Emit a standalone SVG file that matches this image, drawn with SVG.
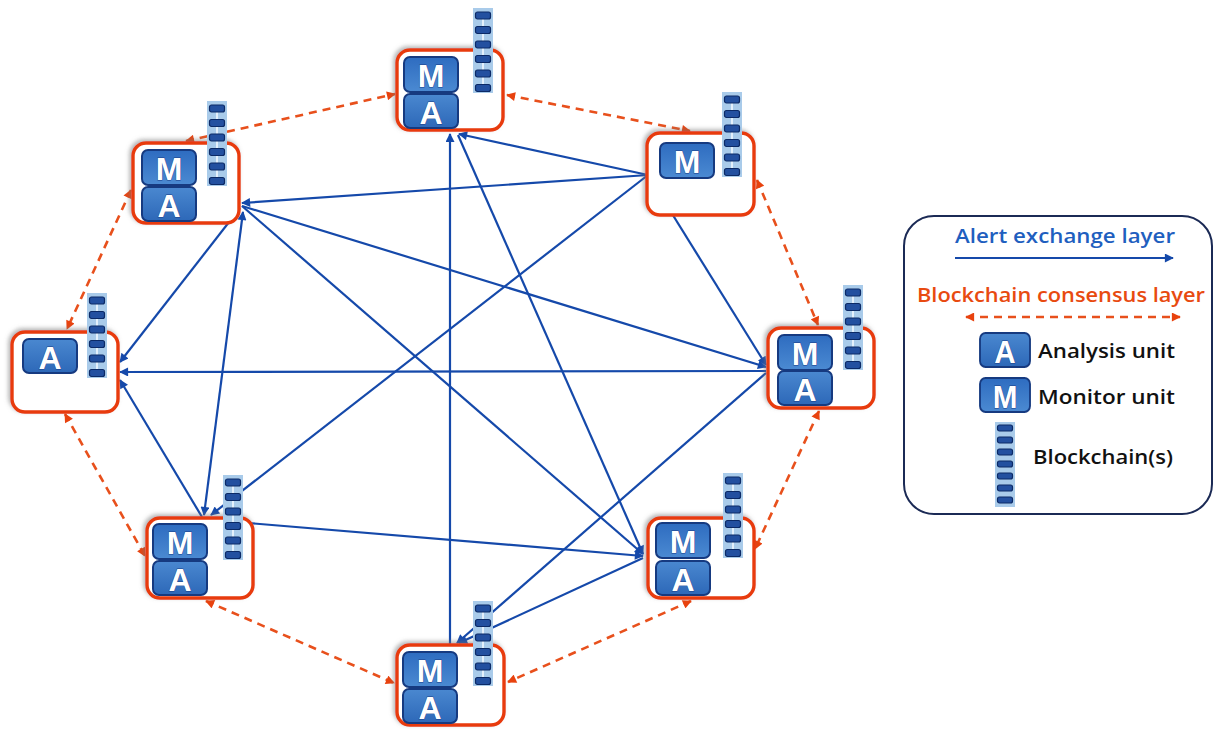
<svg xmlns="http://www.w3.org/2000/svg" xmlns:xlink="http://www.w3.org/1999/xlink" width="1216" height="729" viewBox="0 0 1216 729">
<style>
.blue{stroke:#1549aa;stroke-width:2.2;fill:none}
.red{stroke:#e8501c;stroke-width:2.6;fill:none;stroke-dasharray:8 6}
.box{fill:#ffffff;stroke:#e83a0c;stroke-width:3.4}
.tile{stroke:#163a80;stroke-width:2}
.let{font-family:"Liberation Sans",Arial,sans-serif;font-size:32px;font-weight:bold;fill:#ffffff;stroke:#1a3f88;stroke-width:0.8;paint-order:stroke;text-anchor:middle}
.leg{font-family:"Open Sans","Liberation Sans",sans-serif;font-size:19px;font-weight:600}
</style>
<defs>
<linearGradient id="gM" x1="0" y1="0" x2="0" y2="1">
<stop offset="0" stop-color="#2e6cc0"/><stop offset="1" stop-color="#4b8ad2"/>
</linearGradient>
<linearGradient id="gA" x1="0" y1="0" x2="0" y2="1">
<stop offset="0" stop-color="#4a88d0"/><stop offset="1" stop-color="#2d68b8"/>
</linearGradient>
<filter id="sh" x="-20%" y="-20%" width="140%" height="140%">
<feDropShadow dx="-2" dy="-2" stdDeviation="2" flood-color="#777" flood-opacity="0.55"/>
</filter>
<marker id="ab" viewBox="0 0 10 10" refX="9" refY="5" markerWidth="11" markerHeight="9" markerUnits="userSpaceOnUse" orient="auto-start-reverse">
<path d="M0,0 L10,5 L0,10 z" fill="#1549aa"/>
</marker>
<marker id="ar" viewBox="0 0 10 10" refX="9" refY="5" markerWidth="10" markerHeight="9" markerUnits="userSpaceOnUse" orient="auto-start-reverse">
<path d="M0,0 L10,5 L0,10 z" fill="#e8420e"/>
</marker>
<g id="chain">
<rect x="0" y="0" width="20" height="85" fill="#a9cbea"/>
<path d="M10,11 V18.5 M10,25.5 V33 M10,40 V47.5 M10,54.5 V62 M10,69 V76.5" stroke="#e4f0fb" stroke-width="2"/>
<rect x="2.5" y="4" width="15" height="7" rx="2" fill="#2350a0" stroke="#0c2a66" stroke-width="1.2"/>
<rect x="2.5" y="18.5" width="15" height="7" rx="2" fill="#2350a0" stroke="#0c2a66" stroke-width="1.2"/>
<rect x="2.5" y="33" width="15" height="7" rx="2" fill="#2350a0" stroke="#0c2a66" stroke-width="1.2"/>
<rect x="2.5" y="47.5" width="15" height="7" rx="2" fill="#2350a0" stroke="#0c2a66" stroke-width="1.2"/>
<rect x="2.5" y="62" width="15" height="7" rx="2" fill="#2350a0" stroke="#0c2a66" stroke-width="1.2"/>
<rect x="2.5" y="76.5" width="15" height="7" rx="2" fill="#2350a0" stroke="#0c2a66" stroke-width="1.2"/>
</g>
<g id="chain7">
<rect x="0" y="0" width="20" height="85" fill="#a9cbea"/>
<rect x="2.5" y="3" width="15" height="6" rx="2" fill="#2350a0" stroke="#0c2a66" stroke-width="1.2"/>
<rect x="2.5" y="15" width="15" height="6" rx="2" fill="#2350a0" stroke="#0c2a66" stroke-width="1.2"/>
<rect x="2.5" y="27" width="15" height="6" rx="2" fill="#2350a0" stroke="#0c2a66" stroke-width="1.2"/>
<rect x="2.5" y="39" width="15" height="6" rx="2" fill="#2350a0" stroke="#0c2a66" stroke-width="1.2"/>
<rect x="2.5" y="51" width="15" height="6" rx="2" fill="#2350a0" stroke="#0c2a66" stroke-width="1.2"/>
<rect x="2.5" y="63" width="15" height="6" rx="2" fill="#2350a0" stroke="#0c2a66" stroke-width="1.2"/>
<rect x="2.5" y="75" width="15" height="6" rx="2" fill="#2350a0" stroke="#0c2a66" stroke-width="1.2"/>
</g>
<g id="tM">
<rect x="0" y="0" width="54" height="35" rx="6" class="tile" fill="url(#gM)"/>
<text x="27" y="30" class="let">M</text>
</g>
<g id="tA">
<rect x="0" y="0" width="54" height="34" rx="6" class="tile" fill="url(#gA)"/>
<text x="27" y="30" class="let">A</text>
</g>
</defs>
<rect width="1216" height="729" fill="#ffffff"/>

<g id="connectors">
<line class="red" x1="186" y1="141" x2="395" y2="94" marker-start="url(#ar)" marker-end="url(#ar)"/>
<line class="red" x1="507" y1="95" x2="690" y2="131" marker-start="url(#ar)" marker-end="url(#ar)"/>
<line class="red" x1="131" y1="190" x2="67" y2="329" marker-start="url(#ar)" marker-end="url(#ar)"/>
<line class="red" x1="757" y1="180" x2="818" y2="325" marker-start="url(#ar)" marker-end="url(#ar)"/>
<line class="red" x1="65" y1="414" x2="145" y2="556" marker-start="url(#ar)" marker-end="url(#ar)"/>
<line class="red" x1="819" y1="411" x2="755" y2="549" marker-start="url(#ar)" marker-end="url(#ar)"/>
<line class="red" x1="206" y1="601" x2="394" y2="683" marker-start="url(#ar)" marker-end="url(#ar)"/>
<line class="red" x1="691" y1="601" x2="508" y2="682" marker-start="url(#ar)" marker-end="url(#ar)"/>

<line class="blue" x1="648" y1="175" x2="242" y2="203" marker-end="url(#ab)"/>
<line class="blue" x1="648" y1="175" x2="459" y2="134" marker-end="url(#ab)"/>
<line class="blue" x1="648" y1="175" x2="766" y2="365" marker-end="url(#ab)"/>
<line class="blue" x1="648" y1="175" x2="211" y2="515" marker-end="url(#ab)"/>
<line class="blue" x1="242" y1="206" x2="766" y2="367" marker-end="url(#ab)"/>
<line class="blue" x1="242" y1="206" x2="643" y2="554" marker-end="url(#ab)"/>
<line class="blue" x1="240" y1="208" x2="120" y2="362" marker-end="url(#ab)"/>
<line class="blue" x1="243" y1="212" x2="204" y2="515" marker-start="url(#ab)" marker-end="url(#ab)"/>
<line class="blue" x1="202" y1="517" x2="120" y2="380" marker-end="url(#ab)"/>
<line class="blue" x1="766" y1="371" x2="120" y2="372" marker-end="url(#ab)"/>
<line class="blue" x1="248" y1="523" x2="643" y2="556" marker-end="url(#ab)"/>
<line class="blue" x1="458" y1="135" x2="643" y2="554" marker-end="url(#ab)"/>
<line class="blue" x1="450" y1="645" x2="450" y2="134" marker-end="url(#ab)"/>
<line class="blue" x1="766" y1="373" x2="457" y2="643" marker-end="url(#ab)"/>
<line class="blue" x1="643" y1="558" x2="459" y2="643" marker-end="url(#ab)"/>
</g>

<g id="node-top">
<rect class="box" x="397" y="50" width="106" height="80" rx="13" filter="url(#sh)"/>
<use xlink:href="#tM" x="404" y="57"/>
<use xlink:href="#tA" x="404" y="94"/>
<use xlink:href="#chain" x="473" y="8"/>
</g>
<g id="node-topleft">
<rect class="box" x="133" y="143" width="106" height="80" rx="13" filter="url(#sh)"/>
<use xlink:href="#tM" x="142" y="150"/>
<use xlink:href="#tA" x="142" y="187"/>
<use xlink:href="#chain" x="207" y="101"/>
</g>
<g id="node-topright">
<rect class="box" x="647" y="133" width="107" height="82" rx="13" filter="url(#sh)"/>
<use xlink:href="#tM" x="660" y="143"/>
<use xlink:href="#chain" x="722" y="92"/>
</g>
<g id="node-left">
<rect class="box" x="12" y="332" width="106" height="80" rx="13" filter="url(#sh)"/>
<use xlink:href="#tA" x="23" y="339"/>
<use xlink:href="#chain" x="87" y="293"/>
</g>
<g id="node-right">
<rect class="box" x="768" y="328" width="106" height="80" rx="13" filter="url(#sh)"/>
<use xlink:href="#tM" x="778" y="335"/>
<use xlink:href="#tA" x="778" y="371"/>
<use xlink:href="#chain" x="843" y="285"/>
</g>
<g id="node-bottomleft">
<rect class="box" x="147" y="518" width="106" height="80" rx="13" filter="url(#sh)"/>
<use xlink:href="#tM" x="153" y="524"/>
<use xlink:href="#tA" x="153" y="561"/>
<use xlink:href="#chain" x="223" y="475"/>
</g>
<g id="node-bottomright">
<rect class="box" x="648" y="518" width="106" height="80" rx="13" filter="url(#sh)"/>
<use xlink:href="#tM" x="656" y="523"/>
<use xlink:href="#tA" x="656" y="561"/>
<use xlink:href="#chain" x="723" y="473"/>
</g>
<g id="node-bottom">
<rect class="box" x="397" y="645" width="107" height="80" rx="13" filter="url(#sh)"/>
<use xlink:href="#tM" x="403" y="652"/>
<use xlink:href="#tA" x="403" y="689"/>
<use xlink:href="#chain" x="473" y="601"/>
</g>

<g id="legend">
<rect x="904" y="216" width="308" height="298" rx="30" fill="#ffffff" stroke="#1b2a55" stroke-width="2"/>
<text x="955" y="243" class="leg" fill="#1f5fbf" textLength="220" lengthAdjust="spacingAndGlyphs">Alert exchange layer</text>
<line class="blue" x1="955" y1="258" x2="1173" y2="258" marker-end="url(#ab)"/>
<text x="917" y="302" class="leg" fill="#e84a10" textLength="288" lengthAdjust="spacingAndGlyphs">Blockchain consensus layer</text>
<line class="red" x1="966" y1="317" x2="1180" y2="317" marker-start="url(#ar)" marker-end="url(#ar)"/>
<g transform="translate(980,333) scale(0.926,1)"><rect x="0" y="0" width="54" height="34" rx="6" class="tile" fill="url(#gA)"/><text x="27" y="30" class="let">A</text></g>
<text x="1038" y="358" class="leg" fill="#111111" textLength="137" lengthAdjust="spacingAndGlyphs">Analysis unit</text>
<g transform="translate(980,378) scale(0.926,1)"><rect x="0" y="0" width="54" height="34" rx="6" class="tile" fill="url(#gM)"/><text x="27" y="30" class="let">M</text></g>
<text x="1038" y="404" class="leg" fill="#111111" textLength="137" lengthAdjust="spacingAndGlyphs">Monitor unit</text>
<use xlink:href="#chain7" x="995" y="422"/>
<text x="1033" y="464" class="leg" fill="#111111" textLength="140" lengthAdjust="spacingAndGlyphs">Blockchain(s)</text>
</g>
</svg>
